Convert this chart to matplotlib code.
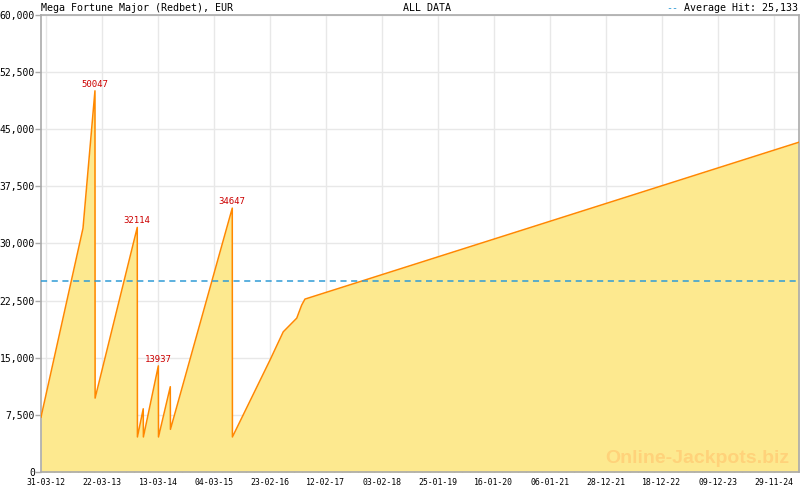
import datetime as dt
import matplotlib
matplotlib.use("Agg")
import matplotlib.pyplot as plt
import matplotlib.dates as mdates
from matplotlib.ticker import FixedLocator, FuncFormatter

# jackpot level over time
hit_dates = [
    "2012-02-28", "2012-11-21", "2013-02-05",
    "2013-02-06", "2013-11-01",
    "2013-11-02", "2013-12-09",
    "2013-12-10", "2014-03-15",
    "2014-03-16", "2014-05-30",
    "2014-05-31", "2015-06-28",
    "2015-06-29", "2016-02-23", "2016-05-17", "2016-08-11", "2016-09-11",
    "2016-10-02", "2025-05-09",
]
hit_values = [
    7200, 32000, 50047,
    9700, 32114,
    4600, 8300,
    4600, 13937,
    4600, 11200,
    5600, 34647,
    4600, 14700, 18400, 20200, 21900,
    22700, 43300,
]
peak_dates = ["2013-02-05", "2013-11-01", "2014-03-15", "2015-06-28"]
peak_values = [50047, 32114, 13937, 34647]
avg_hit = 25133

y_ticks = [0, 7500, 15000, 22500, 30000, 37500, 45000, 52500, 60000]
x_tick_dates = [
    "2012-03-31", "2013-03-22", "2014-03-13", "2015-03-04", "2016-02-23",
    "2017-02-12", "2018-02-03", "2019-01-25", "2020-01-16", "2021-01-06",
    "2021-12-28", "2022-12-18", "2023-12-09", "2024-11-29",
]

mono = "DejaVu Sans Mono"


def to_num(s):
    return mdates.date2num(dt.datetime.strptime(s, "%Y-%m-%d"))


x = [to_num(d) for d in hit_dates]
px = [to_num(d) for d in peak_dates]
majors = [to_num(d) for d in x_tick_dates]

minors = []
for a, b in zip(majors[:-1], majors[1:]):
    minors += [a + (b - a) * k / 7 for k in range(7)]
step = (majors[-1] - majors[-2]) / 7
minors += [majors[-1] + step * k for k in range(4)]

fig = plt.figure(figsize=(8, 4.9), dpi=100)
ax = fig.add_axes([41 / 800, 18 / 490, 758 / 800, 457 / 490])

ax.fill_between(x, hit_values, 0, color="#fde98f", lw=0, zorder=2)
ax.plot(x, hit_values, color="#ff8800", lw=1.1, zorder=3)
ax.axhline(avg_hit, color="#2f9bd6", lw=1.1, ls=(0, (4, 3)), zorder=4)

for xx, v in zip(px, peak_values):
    ax.annotate(str(v), (xx, v), xytext=(0, 1.5), textcoords="offset points",
                ha="center", va="bottom", color="#cc0000", fontsize=6.5,
                family=mono, zorder=5)

ax.set_xlim(x[0], x[-1])
ax.set_ylim(0, 60000)

ax.xaxis.set_major_locator(FixedLocator(majors))
ax.xaxis.set_minor_locator(FixedLocator(minors))
ax.xaxis.set_major_formatter(mdates.DateFormatter("%d-%m-%y"))
ax.set_yticks(y_ticks)
ax.yaxis.set_major_formatter(FuncFormatter(lambda v, p: f"{int(v):,}"))

ax.tick_params(axis="x", which="major", direction="in", length=6, width=1,
               color="#aaaaaa", labelsize=5.9, pad=4.5)
ax.tick_params(axis="x", which="minor", direction="in", length=3, width=1,
               color="#aaaaaa")
ax.tick_params(axis="y", direction="out", length=4, width=1, color="#aaaaaa",
               labelsize=7, pad=0.5)
for lab in ax.get_xticklabels() + ax.get_yticklabels():
    lab.set_family(mono)

ax.grid(True, which="major", color="#e8e8e8", lw=1, zorder=1)
ax.set_axisbelow(True)
for sp in ax.spines.values():
    sp.set_color("#aaaaaa")
    sp.set_linewidth(1.2)

ax.text(0.987, 0.012, "Online-Jackpots.biz", transform=ax.transAxes,
        ha="right", va="bottom", fontsize=14, fontweight="bold",
        family="Liberation Sans", color="#ffd27a", zorder=6)

fig.text(41 / 800, 1 - 8 / 490, "Mega Fortune Major (Redbet), EUR",
         ha="left", va="center", fontsize=7.2, family=mono)
fig.text(427 / 800, 1 - 8 / 490, "ALL DATA", ha="center", va="center",
         fontsize=7.2, family=mono)
fig.text(798 / 800, 1 - 8 / 490, "Average Hit: 25,133", ha="right",
         va="center", fontsize=7.2, family=mono)
fig.text(678 / 800, 1 - 8 / 490, "--", ha="right", va="center",
         fontsize=7.2, family=mono, color="#2f9bd6")

fig.savefig("out.png", dpi=100)
